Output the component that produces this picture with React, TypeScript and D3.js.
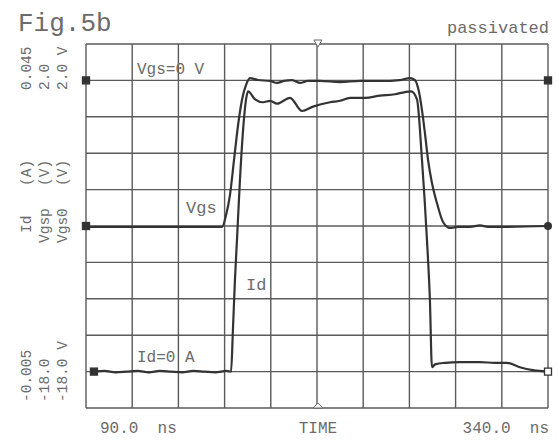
import React, { useEffect, useRef } from 'react';
import * as d3 from 'd3';

// time axis (ns) and the two scope ranges
const timeRange = [90, 340];
const vgsRange = [-18, 2];
const idRange = [-0.005, 0.045];
const divisions = 10;

// Vgs trace (V)
const vgsTime = [90, 124.6, 151.7, 163.6, 165.8, 167.9, 170.1, 172.3, 174.4, 176.6, 178.7, 183.1, 189.6, 193.4, 197.1, 201.5, 205.8, 210.1, 216.6, 227.4, 238.3, 249.1, 259.9, 265.3, 268.0, 270.2, 271.8, 273.4, 275.1, 277.2, 279.9, 283.2, 287.0, 291.3, 297.8, 303.2, 307.5, 314.0, 340];
const vgsValues = [-8.05, -8.05, -8.05, -8.05, -7.4, -6.3, -4.37, -2.45, -1.08, -0.25, 0.13, 0.02, -0.03, -0.14, -0.03, 0.02, -0.14, -0.03, -0.03, -0.09, -0.03, -0.03, 0.02, 0.13, 0.02, -0.64, -1.63, -2.89, -4.37, -5.64, -6.74, -7.78, -8.11, -8.05, -8.05, -7.97, -8.05, -8.05, -8.0];

// Id trace (A)
const idTime = [94.3, 100, 106, 112, 118, 124, 130, 136, 142, 148, 154, 160, 166, 168.5, 169.5, 170.6, 171.7, 173.3, 175.0, 176.6, 177.7, 181.5, 185.8, 189.6, 193.4, 200.4, 206.9, 212.8, 222.0, 227.4, 232.9, 241.0, 249.1, 257.2, 262.6, 265.9, 269.1, 271.8, 274.5, 276.1, 277.2, 278.9, 284.3, 292.4, 303.2, 311.3, 317.8, 324.8, 331.9, 340];
const idValues = [0.0, 0.0001, -0.0001, 0.0, 0.0001, -0.0001, 0.0001, 0.0, -0.0001, 0.0001, 0.0, -0.0001, 0.0001, 0.0, 0.0057, 0.0126, 0.0181, 0.0263, 0.0332, 0.0374, 0.0385, 0.0374, 0.037, 0.0372, 0.0368, 0.0376, 0.0358, 0.0364, 0.037, 0.0372, 0.0376, 0.0376, 0.0379, 0.0381, 0.0384, 0.0385, 0.0374, 0.0291, 0.0181, 0.0098, 0.0006, 0.001, 0.0012, 0.0013, 0.0013, 0.0012, 0.0012, 0.0006, 0.0002, 0.0];

// markers and labels
const markerTime = 215.5;
const vgsRef = 0;
const vgsLow = -8;
const idRef = 0;
const topLabels = ['0.045', '2.0', '2.0 V'];
const midNames = ['Id', 'Vgsp', 'Vgs0'];
const midUnits = ['(A)', '(V)', '(V)'];
const bottomLabels = ['-0.005', '-18.0', '-18.0 V'];

export default function App() {
    const chartRef = useRef<SVGSVGElement>(null);

    const width = 558;
    const height = 441;
    const left = 86, right = 548, top = 44, bottom = 408;
    const font = '"Liberation Mono", "DejaVu Sans Mono", monospace';
    const textColor = '#6b6b6b';
    const ink = '#333';

    const xScale = d3.scaleLinear().domain(timeRange).range([left, right]);
    const yVgs = d3.scaleLinear().domain(vgsRange).range([bottom, top]);
    const yId = d3.scaleLinear().domain(idRange).range([bottom, top]);

    useEffect(() => {
        const svg = d3.select(chartRef.current);
        svg.selectAll('*').remove();

        svg.append('rect').attr('width', width).attr('height', height).attr('fill', '#fff');

        // grid
        const grid = svg.append('g').attr('stroke', '#5a5a5a').attr('stroke-width', 1.4);
        const tStep = (timeRange[1] - timeRange[0]) / divisions;
        const vStep = (vgsRange[1] - vgsRange[0]) / divisions;
        d3.range(divisions + 1).forEach(i => {
            const x = xScale(timeRange[0] + i * tStep);
            grid.append('line').attr('x1', x).attr('x2', x).attr('y1', top).attr('y2', bottom);
            const y = yVgs(vgsRange[0] + i * vStep);
            grid.append('line').attr('x1', left).attr('x2', right).attr('y1', y).attr('y2', y);
        });

        // traces
        const vgsLine = d3.line<number>()
            .x((d, i) => xScale(vgsTime[i]))
            .y(d => yVgs(d))
            .curve(d3.curveMonotoneX);
        const idLine = d3.line<number>()
            .x((d, i) => xScale(idTime[i]))
            .y(d => yId(d))
            .curve(d3.curveMonotoneX);

        svg.append('path').attr('d', vgsLine(vgsValues)).attr('fill', 'none')
            .attr('stroke', ink).attr('stroke-width', 2.2);
        svg.append('path').attr('d', idLine(idValues)).attr('fill', 'none')
            .attr('stroke', ink).attr('stroke-width', 2.2);

        // reference markers
        const sq = (x, y, filled) => svg.append('rect')
            .attr('x', x - 3.5).attr('y', y - 3.5).attr('width', 7).attr('height', 7)
            .attr('fill', filled ? ink : '#fff').attr('stroke', ink).attr('stroke-width', 1.3);
        sq(xScale(timeRange[0]), yVgs(vgsRef), true);
        sq(xScale(timeRange[0]), yVgs(vgsLow), true);
        sq(xScale(idTime[0]), yId(idRef), true);
        sq(xScale(timeRange[1]), yVgs(vgsRef), true);
        svg.append('circle').attr('cx', xScale(timeRange[1])).attr('cy', yVgs(vgsLow)).attr('r', 4).attr('fill', ink);
        sq(xScale(timeRange[1]), yId(idRef), false);

        const mx = xScale(markerTime);
        svg.append('path').attr('d', `M${mx - 4},${top - 4} L${mx + 4},${top - 4} L${mx},${top + 3} Z`)
            .attr('fill', '#fff').attr('stroke', '#666').attr('stroke-width', 1);
        svg.append('path').attr('d', `M${mx - 5},${bottom} L${mx + 5},${bottom} L${mx},${bottom - 5} Z`)
            .attr('fill', '#fff').attr('stroke', '#666').attr('stroke-width', 1);

        // text
        const txt = (s, x, y, size, anchor = 'start') => svg.append('text')
            .attr('x', x).attr('y', y).attr('font-size', size).attr('text-anchor', anchor)
            .attr('font-family', font).attr('fill', textColor).attr('xml:space', 'preserve').text(s);

        txt('Fig.5b', 18, 31, 26);
        txt('passivated', 549, 33, 17, 'end');
        txt('Vgs=0 V', 137, 74, 16);
        txt('Vgs', 186, 213, 17);
        txt('Id', 246, 290, 17);
        txt('Id=0 A', 137, 362, 16);
        txt('90.0  ns', 100, 433, 16);
        txt('TIME', mx, 433, 16, 'middle');
        txt('340.0  ns', 549, 433, 16, 'end');

        const cols = [31, 49, 67];
        const vtxt = (s, x, y) => svg.append('text')
            .attr('transform', `translate(${x},${y}) rotate(-90)`)
            .attr('font-size', 14.5).attr('font-family', font).attr('fill', textColor)
            .attr('xml:space', 'preserve').text(s);
        topLabels.forEach((s, i) => vtxt(s, cols[i], 90));
        midNames.forEach((s, i) => vtxt(s, cols[i], i === 0 ? 233 : 243));
        midUnits.forEach((s, i) => vtxt(s, cols[i], 186));
        bottomLabels.forEach((s, i) => vtxt(s, cols[i], 402));
    });

    return (
        <svg ref={chartRef} width={width} height={height}
            style={{ position: 'fixed', left: 0, top: 0 }}>
        </svg>
    );
}
